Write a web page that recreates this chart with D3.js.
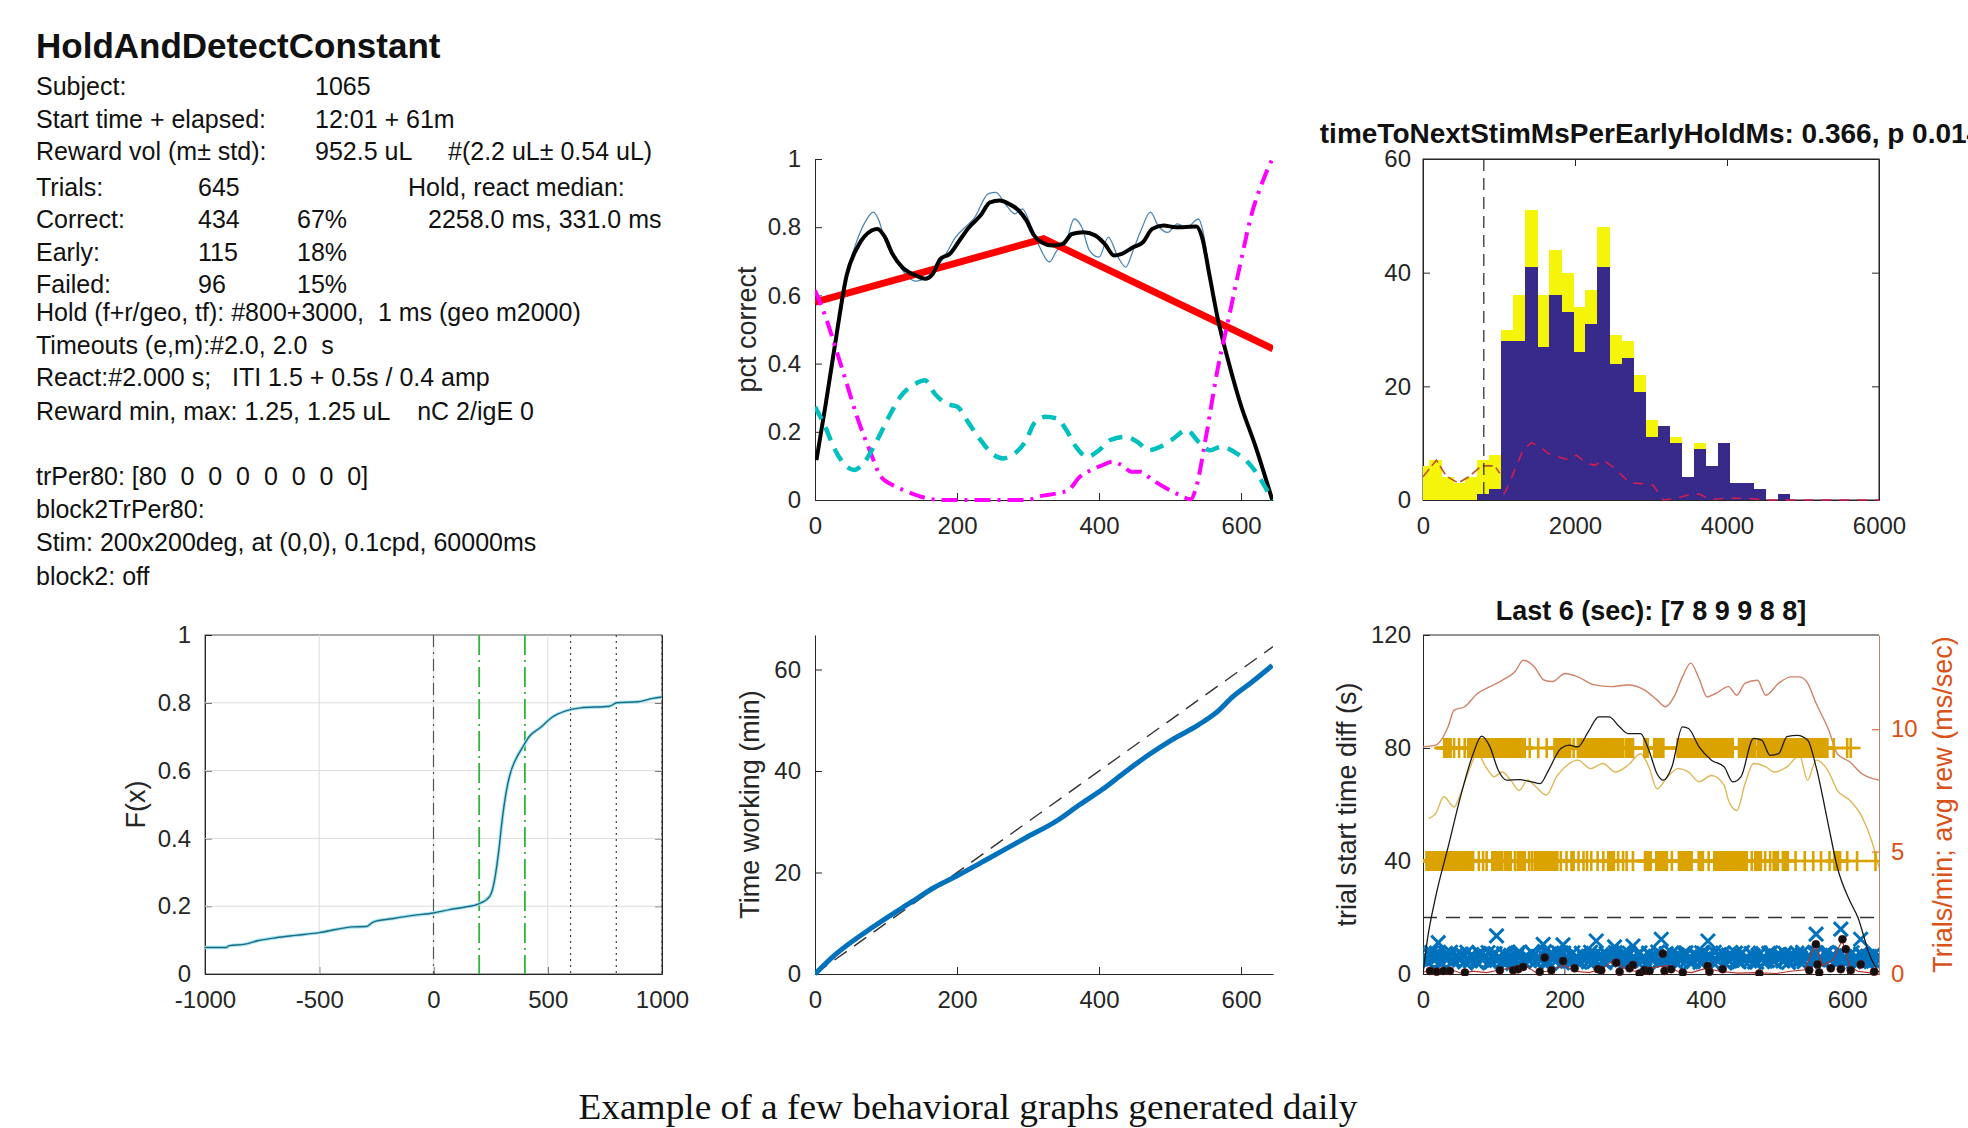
<!DOCTYPE html>
<meta charset="utf-8">
<script src="https://d3js.org/d3.v7.min.js"></script>
<style>
  body { margin: 0; background: #fff; }
  svg text { font-family: "Liberation Sans", Arial, Helvetica, sans-serif; }
  .pre { white-space: pre; }
</style>
<body>
<div id="fig"></div>
<script>

// ---------- text panel ----------
const infoTitle = "HoldAndDetectConstant";
const infoTop = [
  ["Subject:", "1065", ""],
  ["Start time + elapsed:", "12:01 + 61m", ""],
  ["Reward vol (m\u00b1 std):", "952.5 uL", "#(2.2 uL\u00b1 0.54 uL)"]
];
const infoCounts = [
  ["Trials:", "645", "", "Hold, react median:"],
  ["Correct:", "434", "67%", "2258.0 ms, 331.0 ms"],
  ["Early:", "115", "18%", ""],
  ["Failed:", "96", "15%", ""]
];
const infoParams = [
  "Hold (f+r/geo, tf): #800+3000,  1 ms (geo m2000)",
  "Timeouts (e,m):#2.0, 2.0  s",
  "React:#2.000 s;   ITI 1.5 + 0.5s / 0.4 amp",
  "Reward min, max: 1.25, 1.25 uL    nC 2/igE 0"
];
const infoBlock = [
  "trPer80: [80  0  0  0  0  0  0  0]",
  "block2TrPer80:",
  "Stim: 200x200deg, at (0,0), 0.1cpd, 60000ms",
  "block2: off"
];

// ---------- pct correct vs trial ----------
const pctRaw = [[2,0.117],[15,0.28],[28.5,0.46],[44.7,0.66],[60.8,0.77],[72,0.82],[82,0.844],[90,0.82],[98.5,0.761],[114.6,0.702],[131,0.654],[141.5,0.642],[157.7,0.654],[168.5,0.673],[184.6,0.722],[198,0.771],[211.5,0.80],[225,0.829],[243.8,0.898],[254.6,0.902],[268,0.868],[281.5,0.839],[292,0.854],[303,0.81],[316.5,0.741],[330,0.698],[340.7,0.732],[354,0.761],[365,0.824],[375.7,0.8],[386.4,0.732],[400,0.712],[413,0.771],[426.8,0.712],[437.6,0.683],[448,0.732],[459,0.79],[472.5,0.844],[483,0.805],[496.8,0.785],[510,0.81],[523.7,0.80],[540,0.824],[548,0.771],[556,0.654],[566.7,0.537],[583,0.4],[599,0.283],[620.6,0.156],[644,0]];
const pctSmooth = [[2,0.117],[15,0.28],[28.5,0.46],[44.7,0.66],[60.8,0.745],[79.7,0.79],[87.7,0.795],[98.5,0.771],[109,0.722],[122.7,0.683],[141.5,0.659],[155,0.649],[165.8,0.663],[176.5,0.707],[190,0.722],[203.4,0.761],[217,0.8],[233,0.834],[246.5,0.873],[260,0.878],[273.4,0.868],[287,0.849],[297.6,0.82],[308.4,0.776],[319,0.756],[335,0.746],[348.8,0.751],[362,0.78],[378,0.785],[394.5,0.776],[408,0.751],[421.4,0.717],[432,0.722],[448,0.741],[461.8,0.756],[475,0.795],[491,0.805],[507.5,0.80],[518,0.80],[537,0.802],[545,0.771],[556,0.654],[566.7,0.537],[583,0.4],[599,0.283],[620.6,0.156],[644,0]];
const pctTrend = [[0,0.58],[322,0.766],[645,0.443]];
const pctFailed = [[0,0.615],[15,0.537],[28.5,0.449],[44.7,0.341],[60.8,0.234],[77,0.146],[93,0.068],[114.6,0.039],[136,0.0195],[157.7,0.005],[179,0],[297.6,0],[319,0.012],[340.7,0.0195],[356.8,0.029],[373,0.068],[389,0.088],[405,0.102],[418.7,0.112],[432,0.102],[445.6,0.083],[459,0.083],[472.5,0.063],[491,0.039],[513,0.015],[529,0.002],[537,0.039],[550.6,0.185],[566.7,0.38],[583,0.537],[599,0.693],[615,0.839],[631,0.937],[644,1.0]];
const pctEarly = [[0,0.273],[12.4,0.224],[28.5,0.146],[44.7,0.098],[55,0.088],[71.6,0.117],[87.7,0.176],[104,0.244],[120,0.302],[141.5,0.341],[155,0.351],[168.5,0.312],[184.6,0.283],[200.8,0.273],[217,0.224],[233,0.176],[249,0.137],[265,0.122],[281.5,0.137],[297.6,0.176],[308.4,0.224],[324.5,0.244],[340.7,0.239],[354,0.205],[367.6,0.156],[383.7,0.127],[400,0.146],[416,0.176],[437.6,0.185],[453.7,0.171],[470,0.146],[486,0.156],[502,0.176],[523.7,0.205],[540,0.171],[556,0.146],[572,0.156],[593.6,0.137],[615,0.098],[631,0.049],[644,0]];

// ---------- hold time histogram ----------
const histEdges = [-74,84,242,400,558,716,874,1032,1190,1348,1506,1664,1822,1980,2138,2296,2454,2612,2770,2928,3086,3244,3402,3560,3718,3876,4034,4192,4350,4508,4666,4824,4982];
const histCorrect = [0,0,0,0,0,1,2,28,28,41,27,36,33,26,31,41,24,25,19,11,13,10,4,9,6,10,3,3,2,0,1,0];
const histAll     = [6,7,4,3,4,7,8,30,36,51,36,44,40,34,37,48,29,28,22,14,13,11,4,10,6,10,3,3,2,0,1,0];
const histEarlyLine = [[0,4.1],[176,7],[307,4.2],[461,3],[593,4],[768,6],[944,6],[1010,4.7]];
const histCorrLine = [[1060,1],[1097,1.8],[1317,8.8],[1427,10.1],[1536,9.4],[1646,8.2],[1778,7.6],[1910,7.1],[2019,7.9],[2151,6.5],[2261,6.1],[2371,7],[2502,5.8],[2612,4.4],[2722,3],[2875,2.9],[3029,2.6],[3161,0],[3336,0.3],[3512,1],[3644,1],[3775,0.1],[3995,0.3],[4258,0.3],[4522,0],[6000,0]];
const histFixedHold = 800;

// ---------- reaction time CDF ----------
const cdfPts = [[-1000,0.078],[-905,0.078],[-897,0.083],[-825,0.088],[-770,0.098],[-690,0.107],[-603,0.114],[-500,0.122],[-421,0.132],[-357,0.139],[-294,0.14],[-262,0.154],[-183,0.163],[-87,0.173],[0,0.18],[71,0.19],[135,0.197],[198,0.207],[246,0.229],[262,0.26],[270,0.288],[286,0.366],[302,0.463],[325,0.561],[340,0.6],[357,0.629],[389,0.668],[421,0.702],[468,0.727],[516,0.756],[579,0.776],[643,0.785],[770,0.79],[802,0.8],[897,0.803],[960,0.813],[1000,0.817]];
const cdfZeroLine = [0];
const cdfWindowLines = [200, 400];
const cdfDotLines = [600, 800, 1000];

// ---------- time working ----------
const workTime = [[0,0],[28.5,3.8],[82,9.3],[136,14.2],[168.5,17.1],[200.8,19.4],[243.8,22.7],[297.6,26.9],[340.7,30.2],[373,33.4],[405,36.4],[437.6,39.9],[470,43.2],[502,46.1],[540,49.1],[566.7,51.7],[588,54.6],[615,57.5],[644,60.8]];
const workIdeal = [[0,0],[645,64.5]];

// ---------- trial start time diff ----------
const trialsPerMin = [[0,9.28],[17.8,9.35],[35.5,10.1],[44,10.78],[59,10.92],[77,11.46],[94.7,11.74],[112,12.0],[130,12.35],[142,12.82],[157,12.56],[171.6,12.0],[183,11.95],[201,12.28],[219,12.14],[242.6,11.81],[266,11.74],[290,11.81],[313.6,11.6],[331,11.2],[343,10.92],[355,11.32],[367,12.14],[378.7,12.7],[390.5,12.07],[402,11.32],[414,11.46],[432,11.74],[444,11.39],[455.6,11.88],[473,12.0],[485,11.39],[503,11.88],[520.7,12.14],[532.5,12.14],[544,11.88],[556,11.06],[574,9.96],[586,9.0],[603.5,8.67],[621,8.18],[645,7.92]];
const avgReward = [[8,6.35],[17.8,6.55],[29.6,7.24],[44,6.82],[53,7.36],[65,8.32],[77,9.0],[88.8,8.46],[100.6,8.06],[112,8.25],[124,7.92],[136,7.5],[148,7.92],[160,7.64],[174.5,7.31],[189,8.06],[201,8.46],[219,8.74],[236.7,8.39],[254.4,8.6],[272,8.25],[290,8.53],[307.7,9.0],[319.5,8.46],[331,7.57],[346,8.06],[361,8.39],[375.7,8.25],[390.5,7.85],[408,8.11],[426,7.71],[432,7.1],[444,6.68],[455.6,7.78],[467.5,8.6],[485,8.46],[497,8.25],[514.8,8.46],[532.5,8.93],[544,7.92],[556,8.74],[574,8.25],[586,7.5],[603.5,7.1],[621,6.42],[636,5.32],[645,4.36]];
const startDiffSmooth = [[0,0],[6,11.8],[17.8,27.2],[35.5,44.9],[53,62.7],[71,78],[83,84.2],[94.7,80.4],[106.5,72.1],[118,68.6],[136,68.8],[154,68],[165.7,67.4],[177.5,72.1],[195,79.8],[207,81],[219,80.4],[233.7,85.7],[248.5,91],[263,91],[278,87.5],[290,85.1],[307.7,85.1],[319.5,79.2],[331,70.9],[340,68.6],[352,73.3],[367,87.5],[375.7,86.9],[390.5,80.4],[408,75.7],[426,73.3],[438,68],[449.7,69.8],[467.5,83.4],[479,82.8],[491,77.4],[503,78],[514.8,84],[529.6,84.5],[544,82.8],[556,73.3],[574,52],[586,37.8],[603.5,26],[615,20.1],[633,5.9],[645,0.6]];
const rewardRuns = [[30,39],[44,44],[51,51],[59,59],[64,144],[151,151],[163,163],[175,175],[186,205],[208,208],[213,213],[219,271],[273,283],[287,297],[313,318],[327,337],[340,340],[360,438],[447,470],[474,551],[553,572],[581,581],[600,600],[605,605]];
const otherRuns = [[5,71],[79,79],[85,85],[90,90],[98,112],[116,124],[130,130],[134,144],[150,150],[154,154],[158,190],[195,195],[203,203],[210,213],[220,220],[227,227],[232,232],[238,238],[247,247],[255,255],[262,270],[276,276],[283,283],[288,288],[297,297],[314,322],[330,345],[352,352],[362,380],[390,396],[404,404],[412,458],[465,465],[470,478],[484,484],[491,491],[496,502],[509,516],[527,527],[540,540],[552,552],[563,563],[575,575],[582,590],[600,600],[614,614],[640,640]];
const rewardLevel = 80, otherLevel = 40;
const itiTrialsA = d3.range(2, 645, 5);
const itiValsA = [6.5,4.2,7.6,5.8,6.2,3.8,7.3,6.0,4.5,6.8,
  5.0,6.4,7.7,4.6,6.0,3.9,6.9,5.8,7.6,4.3,
  7.2,6.1,4.4,6.7,5.9,3.7,6.3,7.8,4.5,6.2,
  5.1,6.8,6.0,4.7,7.9,4.3,6.4,5.9,7.4,3.9,
  6.1,4.6,7.5,6.3,4.2,6.6,5.8,7.7,4.4,6.0,
  6.7,4.0,6.2,5.7,7.6,5.9,6.4,4.3,7.3,6.0,
  4.5,7.5,6.1,3.8,6.5,5.8,7.8,4.6,6.2,5.9,
  7.4,4.2,6.3,5.7,7.5,6.0,4.4,6.6,4.1,7.3,
  5.9,6.2,7.7,4.5,6.0,3.9,6.7,5.8,7.4,4.3,
  7.6,6.0,4.6,6.5,4.2,7.4,6.1,4.7,7.5,4.4,
  6.3,5.9,7.3,4.1,6.6,6.0,4.5,7.7,5.8,6.2,
  4.3,7.4,6.0,4.6,7.6,5.9,6.4,4.0,7.2,6.1,
  4.7,7.5,6.3,4.4,6.6,5.8,6.2,4.5,6.0];
const itiTrialsB = d3.range(4, 645, 5);
const itiValsB = [4.9,6.8,5.3,7.4,4.1,6.0,5.2,7.7,4.8,5.6,
  7.1,4.3,5.5,6.9,4.7,7.3,5.0,6.2,4.4,7.0,
  4.8,5.7,7.2,4.2,6.6,5.4,7.5,4.9,6.1,5.3,
  7.6,4.4,5.8,6.9,4.6,7.1,5.2,4.8,6.5,7.4,
  4.5,6.8,5.1,4.9,7.3,5.5,4.3,6.1,7.0,5.4,
  4.6,7.2,5.0,6.7,4.4,5.3,7.6,6.2,4.7,5.9,
  7.1,4.5,5.6,7.4,4.9,6.3,4.2,5.5,7.2,4.8,
  5.2,6.9,4.6,7.3,5.0,4.3,6.8,5.4,7.5,4.9,
  6.6,4.4,5.3,6.9,7.4,5.7,4.6,6.2,4.9,7.0,
  4.8,5.5,7.2,4.3,6.7,5.1,4.5,7.3,5.2,6.4,
  7.0,4.6,5.4,6.8,4.9,7.4,5.7,4.4,6.1,4.8,
  7.2,5.0,4.5,7.3,5.2,6.6,4.7,7.5,5.3,4.9,
  6.8,4.4,5.6,7.1,4.8,6.3,5.0,7.2,4.6];
const itiOutliers = [[21.6,11.1],[104,13.5],[170,10.5],[198,10.3],[245,11.7],[271,9.6],[297,9.9],[337,12.3],[403,11.7],[556,14.1],[591,15.9],[619,12.3]];
const reactDots = [[9.9,1.1],[19.3,0.8],[28.7,1.1],[38.1,1.1],[59.3,0.5],[108.7,1.3],[127.5,1.3],[134.6,1.7],[141.6,2.5],[165.1,0.8],[172.2,5.8],[181.6,1.3],[198.1,4.6],[214.5,2.0],[247.5,1.7],[252.2,1.3],[273.4,4.0],[278.1,0.8],[292.2,2.0],[296.9,3.2],[306.3,0.2],[313.4,1.3],[320.4,1.1],[339.2,7.2],[341.6,1.1],[351,1.7],[367.5,0.5],[402.7,2.8],[405.1,0.8],[423.9,1.7],[475.7,0.2],[546.3,1.3],[555.7,10.5],[558,3.4],[560.4,0.5],[576.8,2.0],[590.9,1.7],[593.3,12.3],[598,8.8],[605,1.3],[619.2,3.4],[638,0.8]];
const reactLine = [[0,0.5],[15,2],[25,1],[40,1.5],[55,0.2],[70,1],[90,0.5],[110,1.5],[130,2.5],[145,3],[160,0.5],[175,1],[200,3],[215,1],[235,0.5],[255,2],[270,5],[285,2],[300,1],[320,2],[345,3],[360,1],[380,0.5],[400,2],[420,1],[445,0.3],[470,0.5],[500,0.2],[520,1],[540,1.5],[555,10.5],[565,3],[580,5],[593,12],[603,3],[615,1],[630,0.5],[645,0]];
const diffRefLines = [20, 3];

const figCaption = "Example of a few behavioral graphs generated daily";

// ---------- drawing ----------
const sans = '"Liberation Sans", Arial, Helvetica, sans-serif';
const ink = "#262626";
const orange = "#D95319";

const svg = d3.select("#fig").append("svg")
    .attr("width", 1968).attr("height", 1128)
    .style("background", "#fff");
const defs = svg.append("defs");

function frame(id, x0, x1, y0, y1) {
  defs.append("clipPath").attr("id", id)
    .append("rect").attr("x", x0).attr("y", y0 - 2).attr("width", x1 - x0).attr("height", y1 - y0 + 4);
  return {x0, x1, y0, y1, g: svg.append("g"), plot: svg.append("g").attr("clip-path", `url(#${id})`)};
}

function styleAxis(g, color) {
  g.attr("font-size", 24).attr("font-family", sans);
  g.selectAll(".domain").attr("stroke", color).attr("stroke-width", 1);
  g.selectAll(".tick line").attr("stroke", color);
  g.selectAll(".tick text").attr("fill", color);
}

function yLabel(text, x, y, size, color) {
  svg.append("text").attr("transform", `translate(${x},${y}) rotate(-90)`)
    .attr("text-anchor", "middle").attr("dominant-baseline", "central")
    .attr("font-size", size).attr("fill", color || ink).text(text);
}

function box(f, color) {
  f.g.append("rect").attr("x", f.x0).attr("y", f.y0)
    .attr("width", f.x1 - f.x0).attr("height", f.y1 - f.y0)
    .attr("fill", "none").attr("stroke", color || ink).attr("stroke-width", 1);
}

const fmt = d => String(d);

// text panel
svg.append("text").attr("x", 36).attr("y", 58).attr("font-size", 35)
  .attr("font-weight", "bold").attr("fill", "#111").text(infoTitle);

const infoG = svg.append("g").attr("font-size", 25).attr("fill", "#111");
function infoText(x, y, t) {
  infoG.append("text").attr("class", "pre").attr("xml:space", "preserve")
    .attr("x", x).attr("y", y).text(t);
}
const topBase = [95, 128, 160];
infoTop.forEach((r, i) => {
  [36, 315, 448].forEach((cx, j) => { if (r[j]) infoText(cx, topBase[i], r[j]); });
});
const cntBase = [196, 228, 261, 293];
infoCounts.forEach((r, i) => {
  [36, 198, 297, i === 0 ? 408 : 428].forEach((cx, j) => { if (r[j]) infoText(cx, cntBase[i], r[j]); });
});
const parBase = [321, 354, 386, 420];
infoParams.forEach((t, i) => infoText(36, parBase[i], t));
const blkBase = [485, 518, 551, 585];
infoBlock.forEach((t, i) => infoText(36, blkBase[i], t));

// ---- panel 1: pct correct ----
{
  const f = frame("c1", 815, 1273, 159, 500);
  const x = d3.scaleLinear().domain([0, 645]).range([f.x0, f.x1]);
  const y = d3.scaleLinear().domain([0, 1]).range([f.y1, f.y0]);
  const line = d3.line().x(d => x(d[0])).y(d => y(d[1])).curve(d3.curveMonotoneX);
  f.plot.append("path").datum(pctRaw).attr("d", line).attr("fill", "none").attr("stroke", "#4f86b4").attr("stroke-width", 1.3);
  f.plot.append("path").datum(pctTrend).attr("d", d3.line().x(d => x(d[0])).y(d => y(d[1])))
    .attr("fill", "none").attr("stroke", "#ff0000").attr("stroke-width", 7);
  f.plot.append("path").datum(pctSmooth).attr("d", line).attr("fill", "none").attr("stroke", "#000").attr("stroke-width", 4);
  f.plot.append("path").datum(pctFailed).attr("d", line).attr("fill", "none").attr("stroke", "#ff00ff")
    .attr("stroke-width", 4).attr("stroke-dasharray", "16,7,3,7");
  f.plot.append("path").datum(pctEarly).attr("d", line).attr("fill", "none").attr("stroke", "#00bfbf")
    .attr("stroke-width", 4.5).attr("stroke-dasharray", "14,9");
  const ax = f.g.append("g").attr("transform", `translate(0,${f.y1})`)
    .call(d3.axisBottom(x).tickValues([0, 200, 400, 600]).tickSizeInner(-7).tickSizeOuter(0).tickPadding(17).tickFormat(fmt));
  styleAxis(ax, ink);
  const ay = f.g.append("g").attr("transform", `translate(${f.x0},0)`)
    .call(d3.axisLeft(y).tickValues([0, 0.2, 0.4, 0.6, 0.8, 1]).tickSizeInner(-7).tickSizeOuter(0).tickPadding(14).tickFormat(fmt));
  styleAxis(ay, ink);
  yLabel("pct correct", 747, (f.y0 + f.y1) / 2, 27);
}

// ---- panel 2: histogram ----
{
  const f = frame("c2", 1423, 1879, 159, 500);
  const x = d3.scaleLinear().domain([0, 6000]).range([f.x0, f.x1]);
  const y = d3.scaleLinear().domain([0, 60]).range([f.y1, f.y0]);
  const bins = histAll.map((v, i) => ({a: histEdges[i], b: histEdges[i + 1], all: v, corr: histCorrect[i]}));
  f.plot.selectAll(".yb").data(bins).join("rect")
    .attr("x", d => x(d.a)).attr("width", d => x(d.b) - x(d.a) + 0.5)
    .attr("y", d => y(d.all)).attr("height", d => y(0) - y(d.all))
    .attr("fill", "#f5f50a").attr("shape-rendering", "crispEdges");
  f.plot.selectAll(".bb").data(bins).join("rect")
    .attr("x", d => x(d.a)).attr("width", d => x(d.b) - x(d.a) + 0.5)
    .attr("y", d => y(d.corr)).attr("height", d => y(0) - y(d.corr))
    .attr("fill", "#372a8a").attr("shape-rendering", "crispEdges");
  const line = d3.line().x(d => x(d[0])).y(d => y(d[1]));
  f.plot.append("path").datum(histEarlyLine).attr("d", line).attr("fill", "none")
    .attr("stroke", "#c0502a").attr("stroke-width", 1.6).attr("stroke-dasharray", "10,4");
  f.plot.append("path").datum(histCorrLine).attr("d", line).attr("fill", "none")
    .attr("stroke", "#d21e50").attr("stroke-width", 1.6).attr("stroke-dasharray", "10,8");
  f.plot.append("line").attr("x1", x(histFixedHold)).attr("x2", x(histFixedHold))
    .attr("y1", f.y0).attr("y2", f.y1).attr("stroke", "#333").attr("stroke-width", 1.3).attr("stroke-dasharray", "12,7");
  box(f);
  const ax = f.g.append("g").attr("transform", `translate(0,${f.y1})`)
    .call(d3.axisBottom(x).tickValues([0, 2000, 4000, 6000]).tickSizeInner(-7).tickSizeOuter(0).tickPadding(17).tickFormat(fmt));
  styleAxis(ax, ink);
  const at = f.g.append("g").attr("transform", `translate(0,${f.y0})`)
    .call(d3.axisTop(x).tickValues([2000, 4000]).tickSizeInner(-7).tickSizeOuter(0).tickFormat(""));
  styleAxis(at, ink);
  const ay = f.g.append("g").attr("transform", `translate(${f.x0},0)`)
    .call(d3.axisLeft(y).tickValues([0, 20, 40, 60]).tickSizeInner(-7).tickSizeOuter(0).tickPadding(12).tickFormat(fmt));
  styleAxis(ay, ink);
  const ar = f.g.append("g").attr("transform", `translate(${f.x1},0)`)
    .call(d3.axisRight(y).tickValues([20, 40]).tickSizeInner(-7).tickSizeOuter(0).tickFormat(""));
  styleAxis(ar, ink);
  svg.append("text").attr("x", (f.x0 + f.x1) / 2).attr("y", 143).attr("text-anchor", "middle")
    .attr("font-size", 28).attr("font-weight", "bold").attr("fill", "#111")
    .text("timeToNextStimMsPerEarlyHoldMs: 0.366, p 0.014");
}

// ---- panel 3: CDF ----
{
  const f = frame("c3", 205, 662, 635, 974);
  const x = d3.scaleLinear().domain([-1000, 1000]).range([f.x0, f.x1]);
  const y = d3.scaleLinear().domain([0, 1]).range([f.y1, f.y0]);
  const grid = f.plot.append("g").attr("stroke", "#dcdcdc").attr("stroke-width", 1);
  [-500, 0, 500].forEach(v => grid.append("line").attr("x1", x(v)).attr("x2", x(v)).attr("y1", f.y0).attr("y2", f.y1));
  [0.2, 0.4, 0.6, 0.8].forEach(v => grid.append("line").attr("x1", f.x0).attr("x2", f.x1).attr("y1", y(v)).attr("y2", y(v)));
  cdfZeroLine.forEach(v => f.plot.append("line").attr("x1", x(v)).attr("x2", x(v)).attr("y1", f.y0).attr("y2", f.y1)
    .attr("stroke", "#555").attr("stroke-width", 1.2).attr("stroke-dasharray", "12,5,2,5"));
  cdfWindowLines.forEach(v => f.plot.append("line").attr("x1", x(v)).attr("x2", x(v)).attr("y1", f.y0).attr("y2", f.y1)
    .attr("stroke", "#2fb53a").attr("stroke-width", 1.8).attr("stroke-dasharray", "20,5,2,5"));
  cdfDotLines.forEach(v => f.plot.append("line").attr("x1", x(v)).attr("x2", x(v)).attr("y1", f.y0).attr("y2", f.y1)
    .attr("stroke", "#444").attr("stroke-width", 1.2).attr("stroke-dasharray", "2,4"));
  const cdfLine = d3.line().x(d => x(d[0])).y(d => y(d[1])).curve(d3.curveMonotoneX);
  f.plot.append("path").datum(cdfPts).attr("d", cdfLine)
    .attr("fill", "none").attr("stroke", "#a6e6f0").attr("stroke-width", 3.5);
  f.plot.append("path").datum(cdfPts).attr("d", cdfLine)
    .attr("fill", "none").attr("stroke", "#1d6a85").attr("stroke-width", 1.4);
  box(f, "#555");
  const ax = f.g.append("g").attr("transform", `translate(0,${f.y1})`)
    .call(d3.axisBottom(x).tickValues([-1000, -500, 0, 500, 1000]).tickSizeInner(-7).tickSizeOuter(0).tickPadding(17).tickFormat(fmt));
  styleAxis(ax, ink);
  const ay = f.g.append("g").attr("transform", `translate(${f.x0},0)`)
    .call(d3.axisLeft(y).tickValues([0, 0.2, 0.4, 0.6, 0.8, 1]).tickSizeInner(-7).tickSizeOuter(0).tickPadding(14).tickFormat(fmt));
  styleAxis(ay, ink);
  const ar = f.g.append("g").attr("transform", `translate(${f.x1},0)`)
    .call(d3.axisRight(y).tickValues([0.2, 0.4, 0.6, 0.8]).tickSizeInner(-7).tickSizeOuter(0).tickFormat(""));
  styleAxis(ar, ink);
  yLabel("F(x)", 136, (f.y0 + f.y1) / 2, 27);
}

// ---- panel 4: time working ----
{
  const f = frame("c4", 815, 1273, 635, 974);
  const x = d3.scaleLinear().domain([0, 645]).range([f.x0, f.x1]);
  const y = d3.scaleLinear().domain([0, 66.8]).range([f.y1, f.y0]);
  const line = d3.line().x(d => x(d[0])).y(d => y(d[1]));
  f.plot.append("path").datum(workIdeal).attr("d", line).attr("fill", "none")
    .attr("stroke", "#333").attr("stroke-width", 1.4).attr("stroke-dasharray", "15,9");
  f.plot.append("path").datum(workTime).attr("d", line.curve(d3.curveMonotoneX)).attr("fill", "none")
    .attr("stroke", "#0072bd").attr("stroke-width", 5);
  const ax = f.g.append("g").attr("transform", `translate(0,${f.y1})`)
    .call(d3.axisBottom(x).tickValues([0, 200, 400, 600]).tickSizeInner(-7).tickSizeOuter(0).tickPadding(17).tickFormat(fmt));
  styleAxis(ax, ink);
  const ay = f.g.append("g").attr("transform", `translate(${f.x0},0)`)
    .call(d3.axisLeft(y).tickValues([0, 20, 40, 60]).tickSizeInner(-7).tickSizeOuter(0).tickPadding(14).tickFormat(fmt));
  styleAxis(ay, ink);
  yLabel("Time working (min)", 750, (f.y0 + f.y1) / 2, 27);
}

// ---- panel 5: trial start time diff ----
{
  const f = frame("c5", 1423, 1879, 635, 974);
  const x = d3.scaleLinear().domain([0, 645]).range([f.x0, f.x1]);
  const y = d3.scaleLinear().domain([0, 120]).range([f.y1, f.y0]);
  const yr = d3.scaleLinear().domain([0, 13.85]).range([f.y1, f.y0]);
  const smooth = (sy) => d3.line().x(d => x(d[0])).y(d => sy(d[1])).curve(d3.curveMonotoneX);
  f.plot.append("path").datum(trialsPerMin).attr("d", smooth(yr)).attr("fill", "none")
    .attr("stroke", "#cf8268").attr("stroke-width", 1.4);
  f.plot.append("path").datum(avgReward).attr("d", smooth(yr)).attr("fill", "none")
    .attr("stroke", "#dcb856").attr("stroke-width", 1.4);
  diffRefLines.forEach((v, i) => f.plot.append("line").attr("x1", f.x0).attr("x2", f.x1).attr("y1", y(v)).attr("y2", y(v))
    .attr("stroke", i === 0 ? "#333" : "#666").attr("stroke-width", 1.3).attr("stroke-dasharray", "14,9"));
  const plus = "M-10,0H10M0,-10V10";
  const expand = runs => runs.flatMap(r => d3.range(r[0], r[1] + 1));
  [[rewardRuns, rewardLevel], [otherRuns, otherLevel]].forEach(([runs, lvl]) => {
    f.plot.append("g").selectAll("path").data(expand(runs)).join("path")
      .attr("d", plus).attr("transform", t => `translate(${x(t)},${y(lvl)})`)
      .attr("stroke", "#dba300").attr("stroke-width", 2.6).attr("fill", "none");
  });
  const cross = "M-7,-7L7,7M-7,7L7,-7";
  const itiPts = itiTrialsA.map((t, i) => [t, itiValsA[i]])
    .concat(itiTrialsB.map((t, i) => [t, itiValsB[i]]))
    .concat(itiOutliers);
  f.plot.append("g").selectAll("path").data(itiPts).join("path")
    .attr("d", cross).attr("transform", d => `translate(${x(d[0])},${y(d[1])})`)
    .attr("stroke", "#0072bd").attr("stroke-width", 3).attr("fill", "none");
  f.plot.append("path").datum(reactLine).attr("d", d3.line().x(d => x(d[0])).y(d => y(d[1])))
    .attr("fill", "none").attr("stroke", "#b8302a").attr("stroke-width", 1.1);
  f.plot.append("g").selectAll("circle").data(reactDots).join("circle")
    .attr("cx", d => x(d[0])).attr("cy", d => y(d[1])).attr("r", 4)
    .attr("fill", "#111").attr("stroke", "#6a1010").attr("stroke-width", 0.6);
  f.plot.append("path").datum(startDiffSmooth).attr("d", smooth(y)).attr("fill", "none")
    .attr("stroke", "#1a1a1a").attr("stroke-width", 1.3);
  f.g.append("line").attr("x1", f.x0).attr("x2", f.x1).attr("y1", f.y0).attr("y2", f.y0).attr("stroke", ink);
  const ax = f.g.append("g").attr("transform", `translate(0,${f.y1})`)
    .call(d3.axisBottom(x).tickValues([0, 200, 400, 600]).tickSizeInner(-7).tickSizeOuter(0).tickPadding(17).tickFormat(fmt));
  styleAxis(ax, ink);
  const ay = f.g.append("g").attr("transform", `translate(${f.x0},0)`)
    .call(d3.axisLeft(y).tickValues([0, 40, 80, 120]).tickSizeInner(-7).tickSizeOuter(0).tickPadding(12).tickFormat(fmt));
  styleAxis(ay, ink);
  const ar = f.g.append("g").attr("transform", `translate(${f.x1},0)`)
    .call(d3.axisRight(yr).tickValues([0, 5, 10]).tickSizeInner(-7).tickSizeOuter(0).tickPadding(12).tickFormat(fmt));
  styleAxis(ar, orange);
  ar.select(".domain").attr("stroke", "#b8876e");
  yLabel("trial start time diff (s)", 1347, (f.y0 + f.y1) / 2, 27);
  yLabel("Trials/min; avg rew (ms/sec)", 1943, (f.y0 + f.y1) / 2, 27, orange);
  svg.append("text").attr("x", (f.x0 + f.x1) / 2).attr("y", 620).attr("text-anchor", "middle")
    .attr("font-size", 27).attr("font-weight", "bold").attr("fill", "#111")
    .text("Last 6 (sec): [7 8 9 9 8 8]");
}

// caption
svg.append("text").attr("x", 968).attr("y", 1119).attr("text-anchor", "middle")
  .style("font-family", '"Liberation Serif", "Times New Roman", serif')
  .attr("font-size", 35).attr("fill", "#111")
  .attr("textLength", 779).attr("lengthAdjust", "spacingAndGlyphs")
  .text(figCaption);

</script>
</body>
